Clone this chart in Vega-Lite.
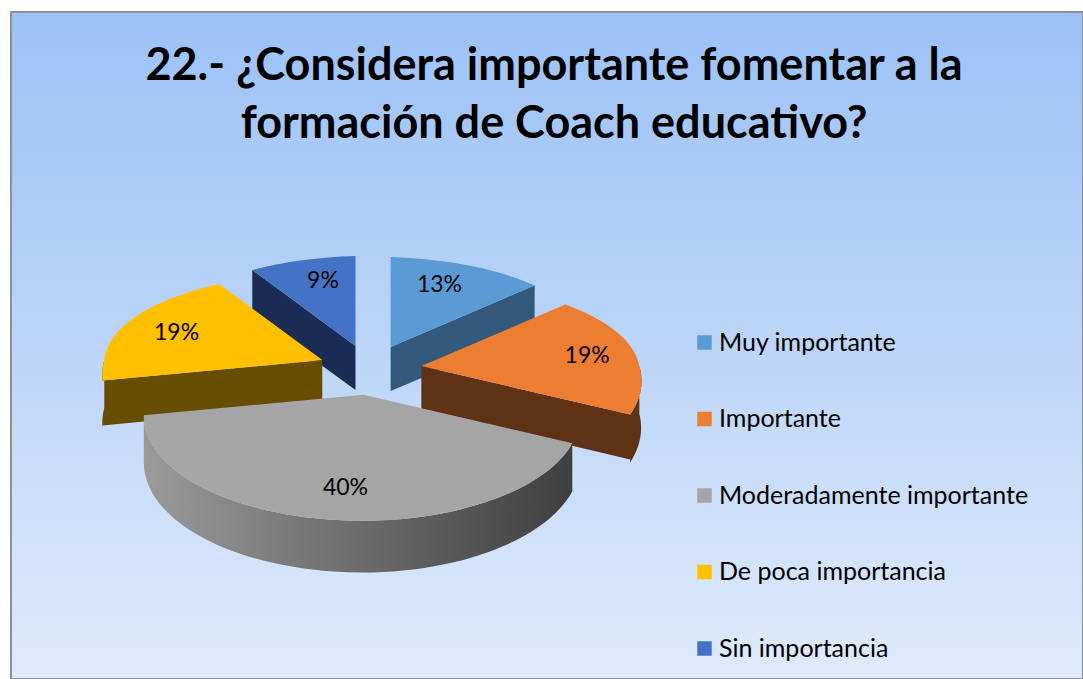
{
  "$schema": "https://vega.github.io/schema/vega-lite/v6.json",
  "autosize": {"type": "none"},
  "padding": {"left": 11, "top": 12, "right": 0, "bottom": 0},
  "width": 1072,
  "height": 667,
  "background": "#ffffff",
  "title": {
    "text": ["22.- ¿Considera importante fomentar a la", "formación de Coach educativo?"],
    "font": "Lato",
    "fontWeight": "bold",
    "fontSize": 45,
    "lineHeight": 58,
    "color": "#000000",
    "anchor": "middle",
    "frame": "group",
    "baseline": "top",
    "dx": 7,
    "dy": 135.5,
    "offset": 0
  },
  "config": {
    "view": {"stroke": null},
    "legend": {"symbolType": "square"}
  },
  "data": {
    "values": [
      {"orden": 1, "categoria": "Muy importante", "valor": 13},
      {"orden": 2, "categoria": "Importante", "valor": 19},
      {"orden": 3, "categoria": "Moderadamente importante", "valor": 40},
      {"orden": 4, "categoria": "De poca importancia", "valor": 19},
      {"orden": 5, "categoria": "Sin importancia", "valor": 9}
    ]
  },
  "transform": [
    {"stack": "valor", "sort": [{"field": "orden"}], "as": ["v0", "v1"]},
    {"calculate": "datum.v0*2*PI/100", "as": "t0"},
    {"calculate": "datum.v1*2*PI/100", "as": "t1"},
    {"calculate": "(datum.t0+datum.t1)/2", "as": "tm"},
    {"calculate": "370+52*sin(datum.tm)", "as": "ax"},
    {"calculate": "370-25*cos(datum.tm)", "as": "ay"},
    {"calculate": "datum.ax+(0.55+0.24*abs(sin(datum.tm)))*(218-30*cos(datum.tm))*sin(datum.tm)", "as": "lx"},
    {"calculate": "datum.ay-0.75*(cos(datum.tm)>0?90:105-20*cos(datum.tm))*cos(datum.tm)", "as": "ly"},
    {"calculate": "format(datum.valor,'d')+'%'", "as": "etiqueta"},
    {"calculate": "(218-30*cos(datum.t0))*sin(datum.t0)", "as": "x0"},
    {"calculate": "-(cos(datum.t0)>0?90:105-20*cos(datum.t0))*cos(datum.t0)", "as": "y0"},
    {"calculate": "(218-30*cos(datum.t1))*sin(datum.t1)", "as": "x1"},
    {"calculate": "-(cos(datum.t1)>0?90:105-20*cos(datum.t1))*cos(datum.t1)", "as": "y1"},
    {"calculate": "'M0,0L'+datum.x0+','+datum.y0+((datum.t0<PI/2&&datum.t1>PI/2)?'A218,90,0,0,1,218,0A218,105,0,0,1,':((datum.t0<3*PI/2&&datum.t1>3*PI/2)?'A218,105,0,0,1,-218,0A218,90,0,0,1,':('A218,'+(cos(datum.tm)>0?90:105)+',0,0,1,')))+datum.x1+','+datum.y1+'Z'", "as": "caraSuperior"},
    {"calculate": "datum.t1<PI?datum.x1:datum.x0", "as": "xc"},
    {"calculate": "datum.t1<PI?datum.y1:datum.y0", "as": "yc"},
    {"calculate": "max(datum.t0,PI/2)", "as": "a0"},
    {"calculate": "min(datum.t1,3*PI/2)", "as": "a1"},
    {"calculate": "(218-30*cos(datum.a0))*sin(datum.a0)", "as": "xa0"},
    {"calculate": "-(105-20*cos(datum.a0))*cos(datum.a0)", "as": "ya0"},
    {"calculate": "(218-30*cos(datum.a1))*sin(datum.a1)", "as": "xa1"},
    {"calculate": "-(105-20*cos(datum.a1))*cos(datum.a1)", "as": "ya1"},
    {"calculate": "(datum.t1<PI||datum.t0>PI)?('M0,0L'+datum.xc+','+datum.yc+'L'+datum.xc+','+(datum.yc+45)+'L0,44Z'):''", "as": "caraCorte"},
    {"calculate": "datum.a0<datum.a1?('M'+datum.xa0+','+datum.ya0+'A218,105,0,0,1,'+datum.xa1+','+datum.ya1+'L'+datum.xa1+','+(datum.ya1+48)+'A218,110,0,0,0,'+datum.xa0+','+(datum.ya0+48)+'Z'):''", "as": "caraExterior"},
    {"calculate": "datum.caraCorte+datum.caraExterior", "as": "pared"}
  ],
  "encoding": {
    "x": {"field": "ax", "type": "quantitative", "axis": null, "scale": {"domain": [11, 1083], "nice": false, "zero": false}},
    "y": {"field": "ay", "type": "quantitative", "axis": null, "scale": {"domain": [12, 679], "reverse": true, "nice": false, "zero": false}}
  },
  "layer": [
    {
      "data": {"values": [{}]},
      "transform": [],
      "mark": {
        "type": "rect",
        "stroke": "#8e9194",
        "strokeWidth": 2,
        "fill": {
          "x1": 0, "y1": 0, "x2": 0, "y2": 1,
          "gradient": "linear",
          "stops": [
            {"offset": 0, "color": "#9bc2f6"},
            {"offset": 0.5, "color": "#bcd5f8"},
            {"offset": 1, "color": "#dfebfc"}
          ]
        }
      },
      "encoding": {"x": null, "y": null}
    },
    {
      "transform": [{"filter": "datum.orden!=3"}],
      "mark": {"type": "point", "filled": true, "size": 4, "opacity": 1},
      "encoding": {
        "shape": {"field": "pared", "type": "nominal", "scale": null},
        "color": {
          "field": "categoria", "type": "nominal", "legend": null,
          "scale": {
            "domain": ["Muy importante", "Importante", "Moderadamente importante", "De poca importancia", "Sin importancia"],
            "range": ["#335a7c", "#5f3115", "#636363", "#664d00", "#1a2c55"]
          }
        },
        "order": {"field": "ay"}
      }
    },
    {
      "transform": [{"filter": "datum.orden==3"}],
      "mark": {
        "type": "point", "filled": true, "size": 4, "opacity": 1,
        "fill": {
          "x1": 0, "y1": 0, "x2": 1, "y2": 0,
          "gradient": "linear",
          "stops": [
            {"offset": 0, "color": "#9a9a9a"},
            {"offset": 0.5, "color": "#6c6c6c"},
            {"offset": 1, "color": "#3f3f3f"}
          ]
        }
      },
      "encoding": {
        "shape": {"field": "pared", "type": "nominal", "scale": null}
      }
    },
    {
      "mark": {"type": "point", "filled": true, "size": 4, "opacity": 1},
      "encoding": {
        "shape": {"field": "caraSuperior", "type": "nominal", "scale": null},
        "color": {
          "field": "categoria", "type": "nominal",
          "sort": ["Muy importante", "Importante", "Moderadamente importante", "De poca importancia", "Sin importancia"],
          "scale": {
            "domain": ["Muy importante", "Importante", "Moderadamente importante", "De poca importancia", "Sin importancia"],
            "range": ["#5b9bd5", "#ed7d31", "#a5a5a5", "#ffc000", "#4472c4"]
          },
          "legend": {
            "title": null,
            "orient": "none",
            "legendX": 681,
            "legendY": 318,
            "symbolType": "square",
            "symbolSize": 210,
            "symbolOpacity": 1,
            "labelFont": "Lato",
            "labelFontSize": 25,
            "labelColor": "#000000",
            "labelOffset": 2,
            "labelLimit": 400,
            "rowPadding": 50.5,
            "symbolStrokeWidth": 0,
            "padding": 0
          }
        },
        "order": {"field": "ay"}
      }
    },
    {
      "mark": {"type": "text", "font": "Lato", "fontSize": 23, "color": "#000000", "align": "center", "baseline": "middle"},
      "encoding": {
        "x": {"field": "lx", "type": "quantitative"},
        "y": {"field": "ly", "type": "quantitative"},
        "text": {"field": "etiqueta", "type": "nominal"}
      }
    }
  ],
  "resolve": {"scale": {"color": "independent"}}
}
